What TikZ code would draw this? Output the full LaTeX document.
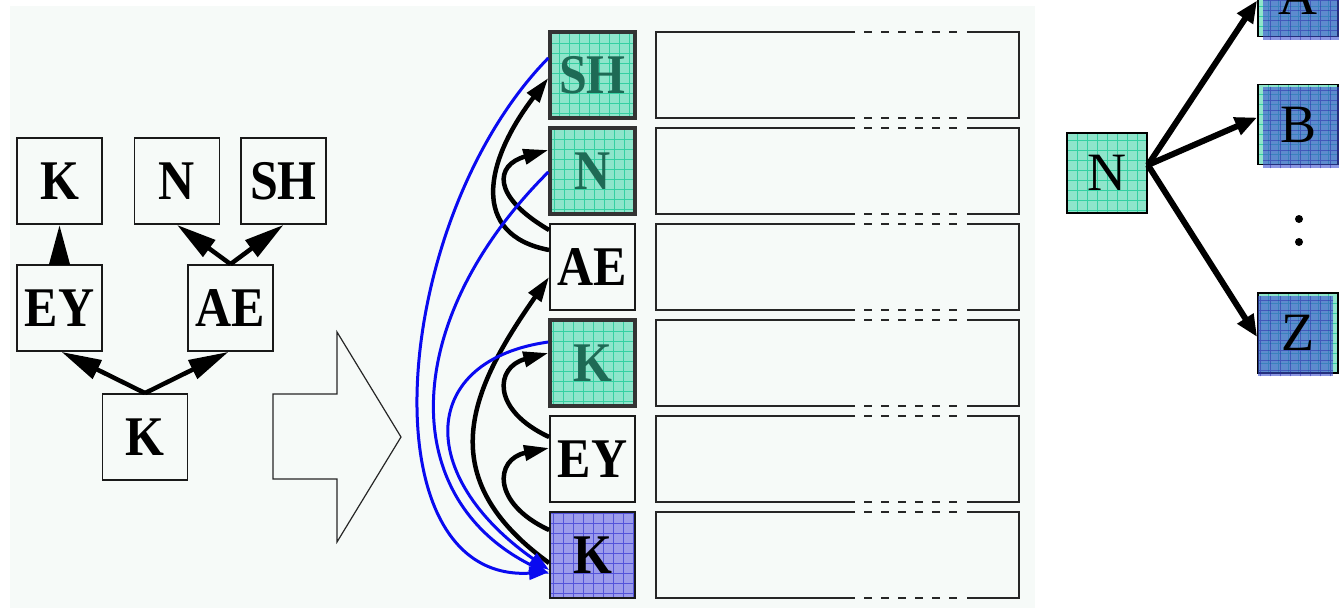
\documentclass[tikz,border=0pt]{standalone}
\usepackage{fontspec}
\setmainfont{Liberation Serif}
\usetikzlibrary{arrows.meta,calc}

\definecolor{panel}{HTML}{F6FAF8}
\definecolor{mint}{HTML}{8FE5CB}
\definecolor{mintline}{HTML}{35D0A2}
\definecolor{minttext}{HTML}{1E6A55}
\definecolor{lilac}{HTML}{9C9CEB}
\definecolor{lilacline}{HTML}{5353DA}
\definecolor{wash}{HTML}{3C50D0}
\definecolor{washline}{HTML}{2828A8}
\definecolor{linkblue}{HTML}{0A0AF0}

\newcommand{\tall}[1]{\scalebox{1}[1.12]{#1}}

\tikzset{
  x=1pt, y=-1pt,
  gridded/.style 2 args={fill=#1,
    path picture={\draw[#2, line width=0.8pt, step=10pt]
      (path picture bounding box.south west) grid (path picture bounding box.north east);}},
  box/.style={minimum width=85pt, minimum height=86pt, inner sep=0pt,
    draw=black!90, line width=1.8pt, font=\fontsize{50}{50}\selectfont\bfseries},
  cell/.style={box, gridded={mint}{mintline}, draw=black!80, line width=3.4pt, text=minttext},
  lastcell/.style={box, gridded={lilac}{lilacline}},
  rbox/.style={minimum width=80pt, minimum height=80pt, inner sep=0pt,
    draw=black, line width=1.8pt, gridded={mint}{mintline}},
  rlabel/.style={inner sep=0pt, font=\fontsize{54}{54}\selectfont},
  slot/.style={draw=black!85, line width=1.8pt},
  slotgap/.style={slot, dash pattern=on 8pt off 9pt},
  treearrow/.style={line width=4.5pt, -{Triangle[length=40pt 0,width=20pt 0]}},
  linkarrow/.style={line width=4.5pt, -{Triangle[length=25pt 0,width=15pt 0]}},
  bluearrow/.style={linkblue, line width=3pt, -{Triangle[length=20pt 0,width=13pt 0]}},
  fanarrow/.style={line width=6pt, -{Triangle[length=22pt 0,width=18pt 0]}},
  dot/.style={circle, fill=black, inner sep=0pt, minimum size=8pt},
}

\begin{document}
\begin{tikzpicture}
\useasboundingbox (0,0) rectangle (1339,610);
\clip (0,0) rectangle (1339,610);
\fill[panel] (10,6) rectangle (1035,608);

% ---- dependency tree ----
\node[box] (tk)  at (59.5,181)  {\tall{K}};
\node[box] (tn)  at (177,181)   {\tall{N}};
\node[box] (tsh) at (283.5,181) {\tall{SH}};
\node[box] (tey) at (59.5,308)  {\tall{EY}};
\node[box] (tae) at (230.5,308) {\tall{AE}};
\node[box] (tkb) at (145,437)   {\tall{K}};

\draw[treearrow] (tkb.north) -- ($(tey.south)+(2,0)$);
\draw[treearrow] (tkb.north) -- ($(tae.south)+(-2,0)$);
\draw[treearrow] (tae.north) -- (tn.south);
\draw[treearrow] (tae.north) -- (tsh.south);
\draw[treearrow] (tey.north) -- (tk.south);

% ---- hollow arrow ----
\draw[line width=1.2pt, draw=black!85]
  (273,394) -- (337,394) -- (337,332) -- (401,437) -- (337,542) -- (337,479) -- (273,479) -- cycle;

% ---- stacked column ----
\node[cell]     (csh) at (592.5,75)  {\tall{SH}};
\node[cell]     (cn)  at (592.5,171) {\tall{N}};
\node[box]      (cae) at (592.5,267) {\tall{AE}};
\node[cell]     (ck)  at (592.5,363) {\tall{K}};
\node[box]      (cey) at (592.5,459) {\tall{EY}};
\node[lastcell] (ckb) at (592.5,555) {\tall{K}};

% ---- slots beside each cell ----
\foreach \yc in {75,171,267,363,459,555} {
  \draw[slot] (855,\yc-43) -- (656,\yc-43) -- (656,\yc+43) -- (855,\yc+43);
  \draw[slot] (967,\yc-43) -- (1019,\yc-43) -- (1019,\yc+43) -- (967,\yc+43);
  \draw[slotgap] (864,\yc-43) -- (960,\yc-43);
  \draw[slotgap] (864,\yc+43) -- (960,\yc+43);
}

% ---- links between cells ----
\draw[linkarrow] ($(cae.west)+(0,-17)$) .. controls (470,235) and (484,162) .. ($(csh.west)+(0,3)$);
\draw[linkarrow] ($(cae.west)+(0,-37)$) .. controls (491,196) and (495,165) .. ($(cn.west)+(0,-21)$);
\draw[linkarrow] ($(cey.west)+(0,-22)$) .. controls (491,410) and (495,367) .. ($(ck.west)+(0,-10)$);
\draw[linkarrow] ($(ckb.west)+(0,-25)$) .. controls (491,503) and (495,459) .. ($(cey.west)+(0,-11)$);
\draw[linkarrow] ($(ckb.west)+(0,8)$) .. controls (430,477) and (470,390) .. ($(cae.west)+(0,10)$);

\draw[bluearrow] ($(csh.west)+(0,-17)$) .. controls (390,220) and (364,583) .. ($(ckb.west)+(0,17)$);
\draw[bluearrow] ($(cn.west)+(0,1)$) .. controls (400,320) and (396,498) .. ($(ckb.west)+(0,19)$);
\draw[bluearrow] ($(ck.west)+(0,-21)$) .. controls (420,360) and (414,475) .. ($(ckb.west)+(0,15)$);

% ---- fan-out on the right ----
\node[rbox, font=\fontsize{54}{54}\selectfont] (rn) at (1107,173) {N};

\node[rbox] (ra) at (1298,-3.5) {};
\node[rbox] (rb) at (1298,124.5) {};
\node[rbox] (rz) at (1298,333) {};

\begin{scope}[fill=wash, fill opacity=0.6]
  \fill (1263,-41) rectangle (1343,40);
  \fill (1263,87) rectangle (1343,168);
  \fill (1258,296) rectangle (1333,376);
\end{scope}
\begin{scope}[washline, line width=0.8pt, opacity=0.5]
  \clip (1263,-41) rectangle (1343,40) (1263,87) rectangle (1343,168) (1258,296) rectangle (1333,376);
  \draw[step=10pt] (1250,-50) grid (1345,380);
\end{scope}

\node[rlabel] (ral) at (ra) {A};
\node[rlabel] (rbl) at (rb) {B};
\node[rlabel] (rzl) at (rz) {Z};

\node[dot] (d1) at (1299,219) {};
\node[dot] (d2) at (1299,242) {};

\draw[fanarrow] ($(rn.east)+(0,-8)$) -- ($(ra.west)+(0,4)$);
\draw[fanarrow] ($(rn.east)+(0,-8)$) -- ($(rb.west)+(0,-7)$);
\draw[fanarrow] ($(rn.east)+(0,-8)$) -- ($(rz.west)+(0,4)$);
\end{tikzpicture}
\end{document}
